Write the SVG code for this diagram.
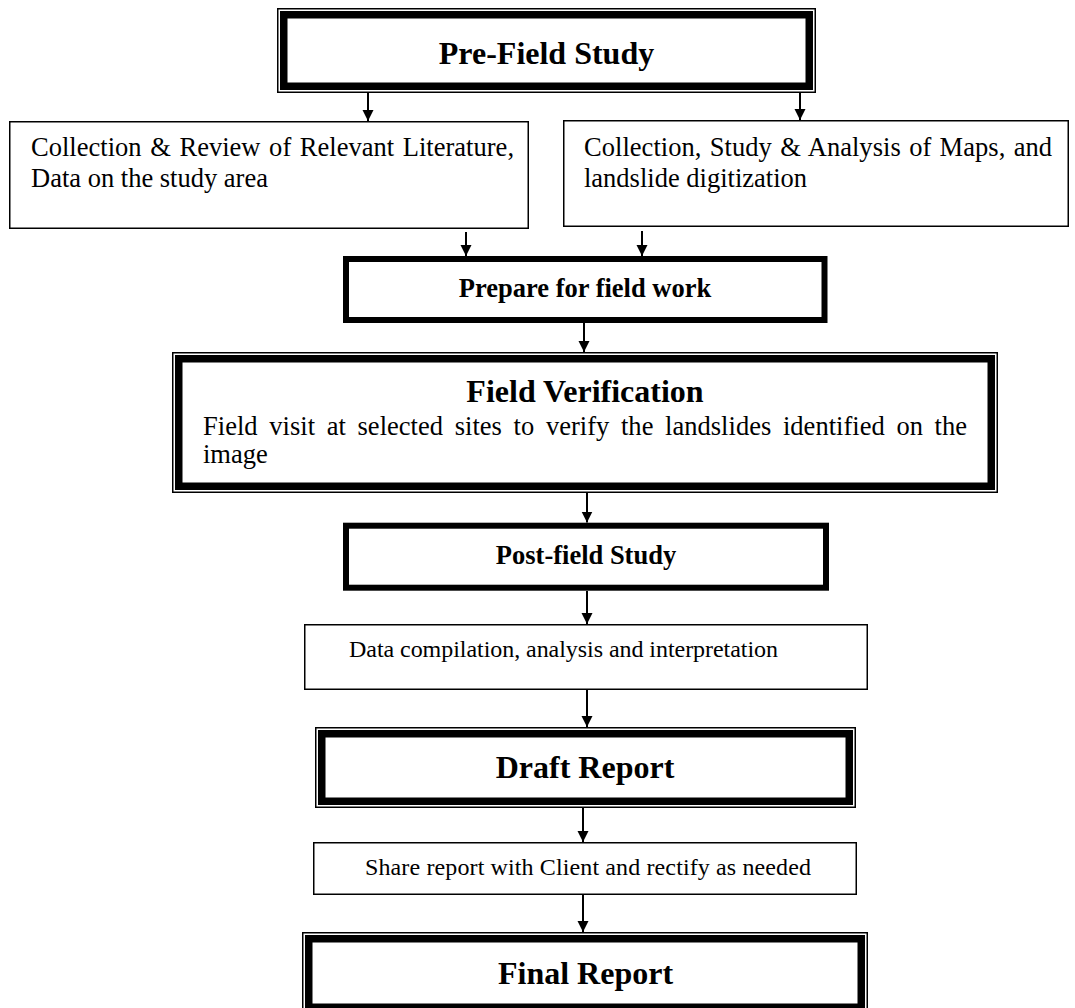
<svg xmlns="http://www.w3.org/2000/svg" width="1075" height="1008" viewBox="0 0 1075 1008">
<style>
text{font-family:"Liberation Serif","Times New Roman",serif;fill:#000}
.t-big{font-size:32px;font-weight:bold;text-anchor:middle}
.t-small{font-size:26.5px;font-weight:bold;text-anchor:middle}
.body{font-size:26.5px}
.body-s{font-size:24px}
.box{fill:#fff;stroke:#000;stroke-width:1.5}
.thick{fill:#fff;stroke:#000;stroke-width:6}
.dbl-thin{fill:#fff;stroke:#000;stroke-width:1.5}
.dbl-thick{fill:none;stroke:#000;stroke-width:7.5}
.conn{stroke:#000;stroke-width:2;fill:none;marker-end:url(#arrow)}
</style>
<defs>
<marker id="arrow" markerUnits="userSpaceOnUse" markerWidth="12" markerHeight="12" refX="11" refY="5.5" orient="auto">
<path d="M0,0 L11,5.5 L0,11 z" fill="#000"/>
</marker>
</defs>
<rect width="1075" height="1008" fill="#fff"/>

<g id="pre-field-study">
<rect class="dbl-thin" x="277.75" y="8.75" width="537.5" height="83.5"/>
<rect class="dbl-thick" x="283.75" y="14.75" width="525.5" height="71.5"/>
<text class="t-big" x="546.5" y="64">Pre-Field Study</text>
</g>

<g id="literature-review">
<rect class="box" x="9.75" y="121.75" width="518.5" height="106.5"/>
<text class="body" x="31" y="156" word-spacing="2" textLength="483">Collection &amp; Review of Relevant Literature,</text>
<text class="body" x="31" y="187">Data on the study area</text>
</g>

<g id="maps-analysis">
<rect class="box" x="563.75" y="120.75" width="504.5" height="105.5"/>
<text class="body" x="584" y="156" word-spacing="1.7" textLength="468">Collection, Study &amp; Analysis of Maps, and</text>
<text class="body" x="584" y="187">landslide digitization</text>
</g>

<g id="prepare-field-work">
<rect class="thick" x="346" y="259" width="478.5" height="61"/>
<text class="t-small" x="585" y="297">Prepare for field work</text>
</g>

<g id="field-verification">
<rect class="dbl-thin" x="172.75" y="352.75" width="824.5" height="139.5"/>
<rect class="dbl-thick" x="178.75" y="358.75" width="812.5" height="127.5"/>
<text class="t-big" x="585" y="402">Field Verification</text>
<text class="body" x="203" y="435" word-spacing="5" textLength="764">Field visit at selected sites to verify the landslides identified on the</text>
<text class="body" x="203" y="463">image</text>
</g>

<g id="post-field-study">
<rect class="thick" x="346" y="525.7" width="480" height="62"/>
<text class="t-small" x="586" y="564">Post-field Study</text>
</g>

<g id="data-compilation">
<rect class="box" x="304.75" y="624.75" width="562.5" height="64.5"/>
<text class="body-s" x="349" y="657" textLength="429">Data compilation, analysis and interpretation</text>
</g>

<g id="draft-report">
<rect class="dbl-thin" x="315.75" y="727.75" width="539.5" height="79.5"/>
<rect class="dbl-thick" x="321.75" y="733.75" width="527.5" height="67.5"/>
<text class="t-big" x="585" y="777.5">Draft Report</text>
</g>

<g id="share-report">
<rect class="box" x="313.75" y="842.75" width="542.5" height="51.5"/>
<text class="body-s" x="365" y="875" textLength="446">Share report with Client and rectify as needed</text>
</g>

<g id="final-report">
<rect class="dbl-thin" x="302.75" y="932.75" width="564.5" height="80.5"/>
<rect class="dbl-thick" x="308.75" y="938.75" width="552.5" height="68.5"/>
<text class="t-big" x="585.5" y="983.5">Final Report</text>
</g>

<g id="connectors">
<line class="conn" x1="368" y1="93" x2="368" y2="121"/>
<line class="conn" x1="800" y1="93" x2="800" y2="120"/>
<line class="conn" x1="466" y1="232" x2="466" y2="256"/>
<line class="conn" x1="642" y1="231" x2="642" y2="256"/>
<line class="conn" x1="584" y1="323" x2="584" y2="352"/>
<line class="conn" x1="587" y1="493" x2="587" y2="522.5"/>
<line class="conn" x1="587" y1="591" x2="587" y2="624"/>
<line class="conn" x1="587" y1="690" x2="587" y2="727"/>
<line class="conn" x1="583" y1="808" x2="583" y2="842"/>
<line class="conn" x1="583" y1="895" x2="583" y2="932"/>
</g>
</svg>
